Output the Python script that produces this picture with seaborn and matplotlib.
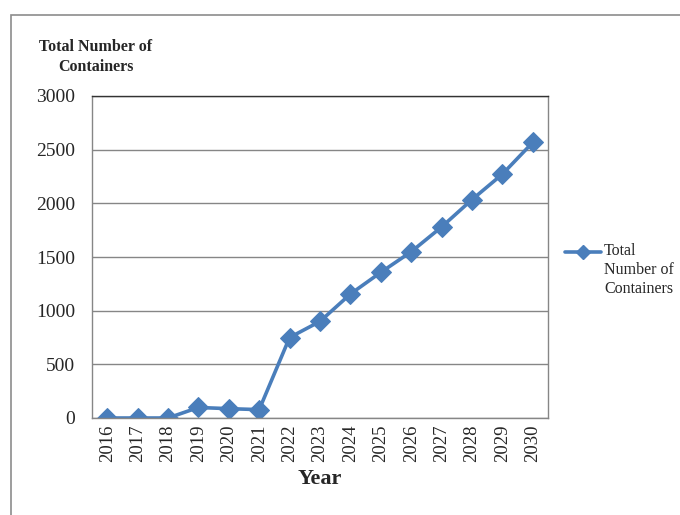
import matplotlib
matplotlib.use('Agg')
import matplotlib.pyplot as plt
import seaborn as sns
import pandas as pd
from matplotlib.lines import Line2D
from matplotlib.patches import Rectangle

years = [2016, 2017, 2018, 2019, 2020, 2021, 2022, 2023, 2024, 2025, 2026, 2027, 2028, 2029, 2030]
containers = [0, 0, 0, 98, 87, 78, 750, 900, 1155, 1357, 1549, 1780, 2035, 2272, 2568]
y_ticks = [0, 500, 1000, 1500, 2000, 2500, 3000]

df = pd.DataFrame({'Year': years, 'Containers': containers})

sns.set_style('white')
plt.rcParams['font.family'] = ['Liberation Serif', 'DejaVu Serif']

azul = '#4A7EBB'
gris = '#868686'

fig = plt.figure(figsize=(6.8, 5.15), dpi=100)
ax = fig.add_axes([92/680, 1 - 418/515, (548 - 92)/680, (418 - 96)/515])

# marco exterior del grafico
fig.add_artist(Rectangle((11/680, -0.1), 1.2, 1 - 15/515 + 0.1, transform=fig.transFigure,
                         fill=False, edgecolor='#8c8c8c', linewidth=1.2))

sns.lineplot(data=df, x='Year', y='Containers', ax=ax, color=azul, linewidth=2.6,
             marker='D', markersize=10, markeredgecolor=azul, legend=False)

ax.set_xlim(years[0] - 0.5, years[-1] + 0.5)
ax.set_ylim(0, 3000)
ax.set_xticks(years)
ax.set_xticklabels([str(y) for y in years], rotation=90, fontsize=13.5)
ax.set_yticks(y_ticks)
ax.set_yticklabels([str(t) for t in y_ticks], fontsize=14)
ax.tick_params(axis='both', length=0)
ax.tick_params(axis='y', pad=12)
ax.tick_params(axis='x', pad=5)
ax.grid(axis='y', color=gris, linewidth=1)
ax.set_axisbelow(True)
for lado in ['left', 'right', 'bottom']:
    ax.spines[lado].set_color(gris)
    ax.spines[lado].set_linewidth(1)
ax.spines['top'].set_color('#333333')
ax.spines['top'].set_linewidth(1)

ax.set_xlabel('Year', fontsize=16, fontweight='bold', labelpad=5)
ax.set_ylabel('')
fig.text(96/680, 1 - 57/515, 'Total Number of\nContainers', ha='center', va='center',
         fontsize=11.5, fontweight='bold', linespacing=1.35)

# leyenda manual
fig.add_artist(Line2D([565/680, 601/680], [1 - 252/515, 1 - 252/515], transform=fig.transFigure,
                      color=azul, linewidth=2.6))
fig.add_artist(Line2D([583/680], [1 - 252/515], transform=fig.transFigure,
                      color=azul, marker='D', markersize=7, linestyle='none'))
fig.text(604/680, 1 - 243/515, 'Total\nNumber of\nContainers', ha='left', va='top',
         fontsize=11.5, linespacing=1.27, transform=fig.transFigure)

fig.savefig('out.png', dpi=100)
